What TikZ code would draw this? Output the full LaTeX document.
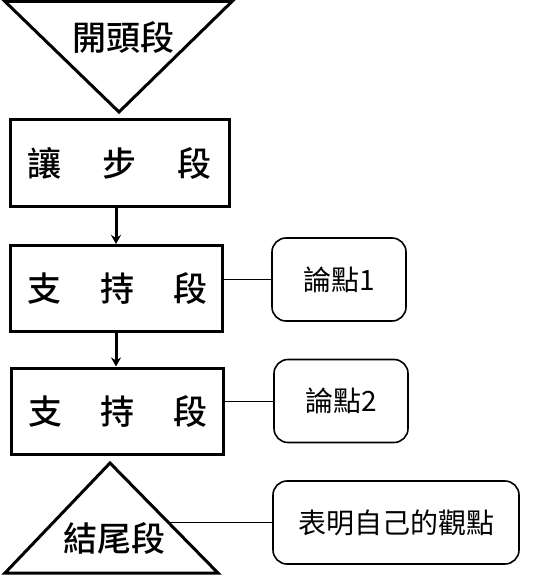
\documentclass[tikz,border=0pt]{standalone}
\usepackage{fontspec}
\newfontfamily\cjk[BoldFont={Noto Sans CJK TC Medium}]{Noto Sans CJK TC}
\usetikzlibrary{arrows.meta,calc}
\tikzset{
  thickbox/.style={draw=black,line width=3pt,minimum width=#1,minimum height=86pt,inner sep=0pt},
  roundbox/.style={draw=black,line width=1.6pt,rounded corners=14pt,minimum width=#1,minimum height=83pt,inner sep=0pt},
  tri/.style={draw=black,line width=3pt,line join=miter},
  btext/.style={font=\cjk\bfseries\fontsize{34}{34}\selectfont,inner sep=0pt},
  rtext/.style={font=\cjk\fontsize{28}{28}\selectfont,inner sep=0pt},
  link/.style={draw=black,line width=0.8pt},
  arr/.style={draw=black,line width=3pt,-{Stealth[length=9pt,width=10pt]}}
}
\begin{document}
\begin{tikzpicture}[x=1pt,y=-1pt]
\useasboundingbox[fill=white] (0,0) rectangle (537,583);
% top triangle
\coordinate (t1) at (5,1.5);
\coordinate (t2) at (232,1.5);
\coordinate (t3) at (119,112);
\draw[tri] (t1) -- (t2) -- (t3) -- cycle;
\node[btext] (open) at (123,37) {開頭段};
% boxes
\node[thickbox=219pt] (box1) at (119.5,163) {};
\node[btext] (box1t) at (box1.center) {讓\hspace{41pt}步\hspace{41pt}段};
\node[thickbox=212pt] (box2) at (116,288.5) {};
\node[btext] (box2t) at (117.5,288.5) {支\hspace{39pt}持\hspace{39pt}段};
\node[thickbox=212pt] (box3) at (117,411) {};
\node[btext] (box3t) at (118,411) {支\hspace{39pt}持\hspace{39pt}段};
% bottom triangle
\coordinate (b1) at (110,463);
\coordinate (b2) at (218,573);
\coordinate (b3) at (5,573);
\draw[tri] (b1) -- (b2) -- (b3) -- cycle;
\node[btext] (close) at (114,538) {結尾段};
\coordinate (bedge) at ($(b1)!0.54!(b2)$);
% right boxes
\node[roundbox=134pt] (r1) at (339,279.5) {};
\node[rtext] (r1t) at (r1.center) {論點1};
\node[roundbox=134pt] (r2) at (341,401) {};
\node[rtext] (r2t) at (r2.center) {論點2};
\node[roundbox=246pt] (r3) at (396,522.5) {};
\node[rtext] (r3t) at (r3.center) {表明自己的觀點};
% connectors
\draw[arr] (box1.south -| box2.north) -- (box2.north);
\draw[arr] (box2.south) -- (box2.south |- box3.north);
\draw[link] (r1.west -| box2.east) -- (r1.west);
\draw[link] (r2.west -| box3.east) -- (r2.west);
\draw[link] (bedge) -- (bedge -| r3.west);
\end{tikzpicture}
\end{document}
